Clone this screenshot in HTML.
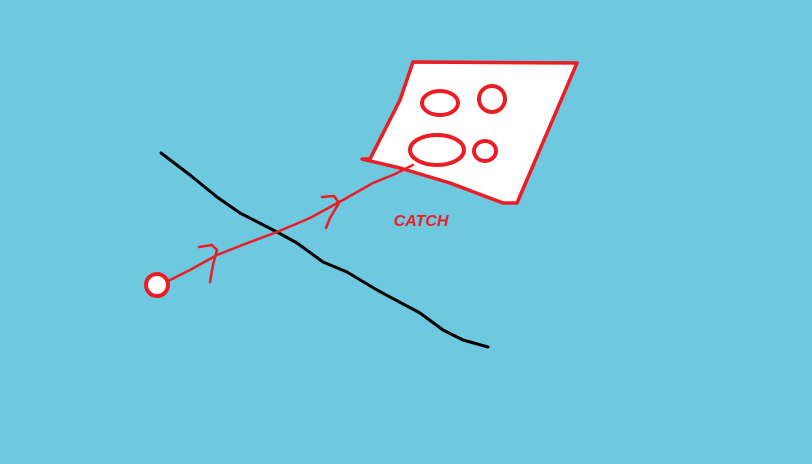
<!DOCTYPE html>
<html><head><meta charset="utf-8"><style>
html,body{margin:0;padding:0;background:#6dc8e0;}
svg{display:block}
</style></head><body>
<svg width="812" height="464" viewBox="0 0 812 464">
<rect width="812" height="464" fill="#6dc8e0"/>
<polyline fill="none" stroke="#000" stroke-width="3" stroke-linecap="round" stroke-linejoin="round"
 points="161,153 190,175 217,197 240,213 277,232 297,243 323,262 347,272 377,290 420,313 443,330 463,340 488,347"/>
<polygon fill="#fff" stroke="#ed1c24" stroke-width="3.5" stroke-linejoin="round"
 points="413,62 577,63 517,203 503,203 450,183 400,168 362,159 370,159 400,100"/>
<ellipse cx="440" cy="103" rx="18" ry="12" fill="none" stroke="#ed1c24" stroke-width="4"/>
<ellipse cx="492" cy="99" rx="13" ry="13" fill="none" stroke="#ed1c24" stroke-width="4"/>
<ellipse cx="437" cy="150" rx="27" ry="15" fill="none" stroke="#ed1c24" stroke-width="4"/>
<ellipse cx="485" cy="151" rx="11" ry="10" fill="none" stroke="#ed1c24" stroke-width="4"/>
<polyline fill="none" stroke="#ed1c24" stroke-width="2.5" stroke-linecap="round" stroke-linejoin="round"
 points="168,281 190,270 217,255 245,244 277,232 310,218 343,200 373,183 395,174 413,165"/>
<polyline fill="none" stroke="#ed1c24" stroke-width="2.5" stroke-linecap="round" stroke-linejoin="round"
 points="199,247 212,245 217,250 213,265 210,282"/>
<polyline fill="none" stroke="#ed1c24" stroke-width="2.5" stroke-linecap="round" stroke-linejoin="round"
 points="322,197 334,196 339,203 330,218 326,228"/>
<circle cx="157" cy="285" r="11" fill="#fff" stroke="#ed1c24" stroke-width="4"/>
<text x="421" y="226" text-anchor="middle" fill="#ed1c24" font-family="Liberation Sans, sans-serif" font-size="16" font-style="italic" font-weight="bold">CATCH</text>
</svg>
</body></html>
